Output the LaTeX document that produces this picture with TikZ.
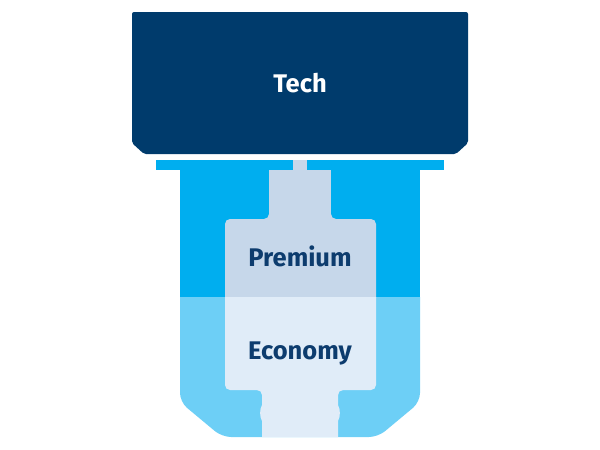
\documentclass[tikz,border=0pt]{standalone}
\usepackage{fontspec}
\setmainfont{Fira Sans}
\definecolor{navy}{HTML}{003B6C}
\definecolor{bright}{HTML}{00AEEF}
\definecolor{lowblue}{HTML}{6DCFF6}
\definecolor{prem}{HTML}{C6D7EA}
\definecolor{econ}{HTML}{E0ECF8}
\definecolor{txt}{HTML}{0D3C6E}
\tikzset{lbl/.style={font=\fontsize{25.5}{30}\selectfont\bfseries, inner sep=0pt}}
\begin{document}
\begin{tikzpicture}[x=1pt,y=-1pt]
\useasboundingbox (0,0) rectangle (600,450);
% Tech block
\fill[navy, rounded corners=2pt] (132,12) -- (468,12) -- (468,143) -- (456,154) -- (144,154) -- (132,143) -- cycle;
\node[lbl, text=white] (tech) at (300,83) {Tech};
% bar
\fill[bright] (156,160) rectangle (293,170);
\fill[bright] (307,160) rectangle (444,170);
\fill[prem] (293,160) rectangle (307,170);
% upper body
\fill[bright] (180,170) rectangle (420,297);
% lower body
\fill[lowblue] (180,297) [rounded corners=9pt] -- (180,402) -- (222,437) -- (378,437) -- (420,402) [sharp corners] -- (420,297) -- cycle;
% premium stem and box
\fill[prem] (269,170) rectangle (331,222);
\begin{scope}
\clip (0,0) rectangle (600,297);
\fill[prem, rounded corners=5pt] (225,219) rectangle (376,320);
\end{scope}
\fill[prem] (269,219) -- (269,214) arc[start angle=0,end angle=90,radius=5] -- cycle;
\fill[prem] (331,219) -- (331,214) arc[start angle=180,end angle=90,radius=5] -- cycle;
% economy box and stem
\begin{scope}
\clip (0,297) rectangle (600,450);
\fill[econ, rounded corners=5pt] (225,270) rectangle (376,390);
\end{scope}
\fill[econ] (262,388) -- (262,405) .. controls (259.5,409) and (259.5,417) .. (262,421) -- (262,437) -- (338,437) -- (338,421) .. controls (340.5,417) and (340.5,409) .. (338,405) -- (338,388) -- cycle;
\fill[econ] (262,390) -- (262,395) arc[start angle=0,end angle=-90,radius=5] -- cycle;
\fill[econ] (338,390) -- (338,395) arc[start angle=180,end angle=270,radius=5] -- cycle;
\node[lbl, text=txt] (premium) at (300,256) {Premium};
\node[lbl, text=txt] (economy) at (300,353) {Economy};
\end{tikzpicture}
\end{document}
